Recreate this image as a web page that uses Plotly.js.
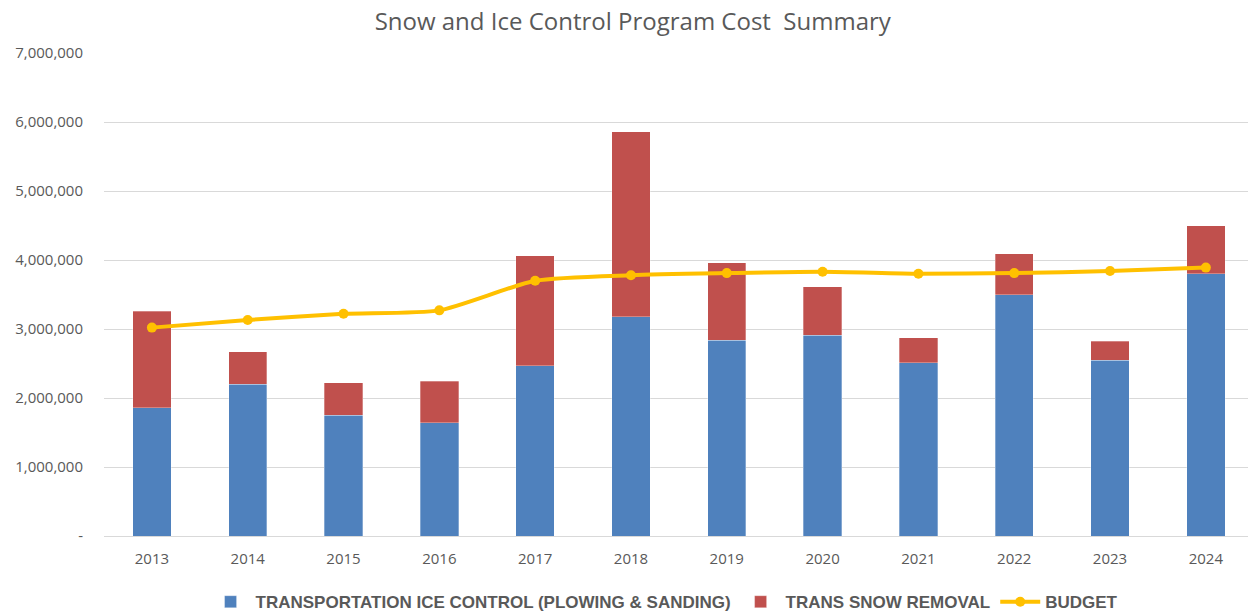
<!DOCTYPE html>
<html>
<head>
<meta charset="utf-8">
<script src="https://cdn.plot.ly/plotly-3.0.1.min.js"></script>
<style>html,body{margin:0;padding:0;background:#fff;}#chart{width:1248px;height:614px;}</style>
</head>
<body>
<div id="chart"></div>
<script>
const years = ['2013','2014','2015','2016','2017','2018','2019','2020','2021','2022','2023','2024'];
const iceControl = [1860000, 2200000, 1750000, 1640000, 2470000, 3180000, 2840000, 2910000, 2510000, 3500000, 2550000, 3800000];
const snowRemoval = [1400000, 470000, 470000, 600000, 1590000, 2680000, 1120000, 700000, 360000, 590000, 270000, 700000];
const budget = [3020000, 3130000, 3220000, 3270000, 3700000, 3780000, 3810000, 3830000, 3800000, 3810000, 3840000, 3890000];
const yTickVals = [0, 1000000, 2000000, 3000000, 4000000, 5000000, 6000000, 7000000];
const yTickText = ['-', '1,000,000', '2,000,000', '3,000,000', '4,000,000', '5,000,000', '6,000,000', '7,000,000'];

const grey = '#595959';
const traces = [
  {type:'bar', name:'TRANSPORTATION ICE CONTROL (PLOWING & SANDING)', x:years, y:iceControl,
   marker:{color:'#4F81BD', line:{color:'rgba(255,255,255,0.6)', width:0.5}}},
  {type:'bar', name:'TRANS SNOW REMOVAL', x:years, y:snowRemoval,
   marker:{color:'#C0504D', line:{color:'rgba(255,255,255,0.6)', width:0.5}}},
  {type:'scatter', mode:'lines+markers', name:'BUDGET', x:years, y:budget,
   line:{color:'#FFC000', width:4, shape:'spline', smoothing:0.6},
   marker:{color:'#FFC000', size:10}}
];
const layout = {
  width:1248, height:614,
  margin:{l:104, r:0, t:53, b:78, autoexpand:false},
  paper_bgcolor:'#fff', plot_bgcolor:'#fff',
  barmode:'stack', bargap:0.6,
  title:{text:'Snow and Ice Control Program Cost&nbsp; Summary', x:0.507, xanchor:'center', y:0.965, yanchor:'middle',
         font:{family:'Open Sans, sans-serif', size:24, color:grey}},
  font:{family:'Open Sans, sans-serif', color:grey, size:15},
  xaxis:{type:'category', range:[-0.5, 11.44], showgrid:false, zeroline:false, showline:false, automargin:false,
         ticks:'', tickfont:{size:15, color:grey}, ticklabelstandoff:12, fixedrange:true},
  yaxis:{range:[0, 7000000], tickvals:yTickVals, ticktext:yTickText, showgrid:true, gridcolor:'#D9D9D9', gridwidth:1,
         zeroline:true, zerolinecolor:'#D9D9D9', zerolinewidth:1, showline:false, ticks:'', automargin:false,
         tickfont:{size:15, color:grey}, ticklabelstandoff:20, fixedrange:true},
  legend:{orientation:'h', x:0.49, xanchor:'center', y:-0.137, yanchor:'middle',
          font:{family:'Liberation Sans, Arial, sans-serif', size:17, color:grey, weight:'bold'},
          traceorder:'normal', itemwidth:40},
  showlegend:true
};
Plotly.newPlot('chart', traces, layout, {displayModeBar:false, staticPlot:true});
</script>
</body>
</html>
